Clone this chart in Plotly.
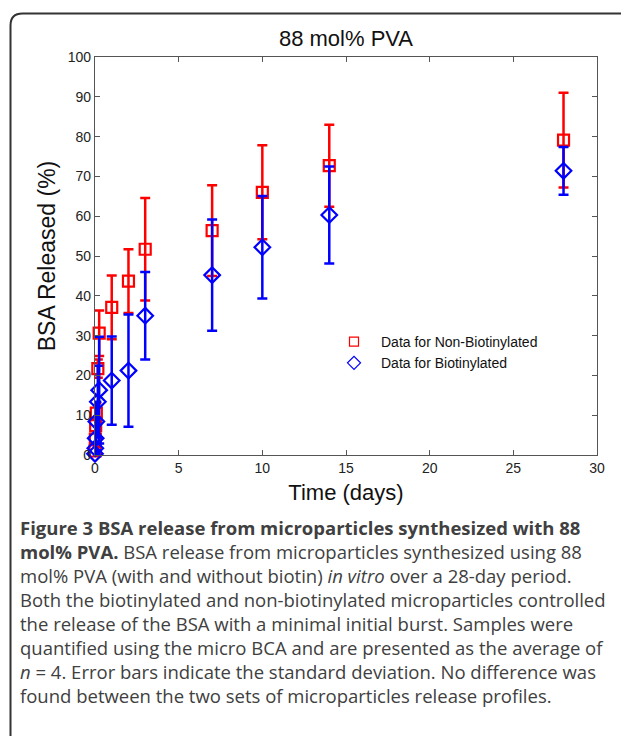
import plotly.graph_objects as go

# Data (time in days)
time = [0, 0.02, 0.04, 0.08, 0.17, 0.25, 1, 2, 3, 7, 10, 14, 28]
non_biot = [1.0, 4.0, 7.4, 10.5, 21.7, 30.6, 37.1, 43.7, 51.7, 56.4, 66.0, 72.7, 79.1]
non_biot_sd = [1.0, 2.0, 2.0, 2.5, 2.3, 5.7, 8.0, 8.0, 12.9, 11.4, 11.8, 10.3, 11.9]
biot = [0.3, 1.7, 4.2, 8.4, 13.4, 16.3, 18.7, 21.2, 35.0, 45.2, 52.2, 60.3, 71.4]
biot_sd = [0.5, 1.5, 3.0, 5.0, 9.0, 13.4, 11.1, 14.1, 11.0, 14.0, 12.9, 12.2, 6.0]

x_ticks = [0, 5, 10, 15, 20, 25, 30]
y_ticks = [0, 10, 20, 30, 40, 50, 60, 70, 80, 90, 100]

RED = "#ff0000"
BLUE = "#0000ff"

W, H = 621, 736
L, R, T, B = 95, 24, 57, 281
PW, PH = W - L - R, H - T - B
ARIAL = "Arial, Liberation Sans, sans-serif"


def px(x):
    return (x - L) / PW


def py(y):
    return (H - B - y) / PH


fig = go.Figure()
fig.add_trace(go.Scatter(
    x=time, y=non_biot, mode="markers", showlegend=False,
    marker=dict(symbol="square-open", size=11, color=RED, line=dict(width=2.2)),
    error_y=dict(type="data", array=non_biot_sd, color=RED, thickness=2.5, width=5),
    cliponaxis=False,
))
fig.add_trace(go.Scatter(
    x=time, y=biot, mode="markers", showlegend=False,
    marker=dict(symbol="diamond-open", size=12, color=BLUE, line=dict(width=2.2)),
    error_y=dict(type="data", array=biot_sd, color=BLUE, thickness=2.5, width=5),
    cliponaxis=False,
))
# legend entries
fig.add_trace(go.Scatter(
    x=[None], y=[None], mode="markers", name="Data for Non-Biotinylated",
    marker=dict(symbol="square-open", size=9, color=RED, line=dict(width=1.2)),
))
fig.add_trace(go.Scatter(
    x=[None], y=[None], mode="markers", name="Data for Biotinylated",
    marker=dict(symbol="diamond-open", size=10, color=BLUE, line=dict(width=1.2)),
))

axis_common = dict(
    showline=True, linecolor="#555555", linewidth=1.2, mirror="ticks",
    ticks="inside", ticklen=5, tickcolor="#555555", showgrid=False, zeroline=False,
    tickfont=dict(family=ARIAL, size=14, color="#222222"),
)

fig.update_layout(
    width=W, height=H,
    margin=dict(l=L, r=R, t=T, b=B),
    paper_bgcolor="white", plot_bgcolor="white",
    title=dict(text="88 mol% PVA", x=px(346), xref="paper", xanchor="center",
               y=1 - 38 / H, yanchor="middle",
               font=dict(family=ARIAL, size=22, color="#111111")),
    xaxis=dict(range=[0, 30], tickvals=x_ticks, ticktext=[str(v) for v in x_ticks],
               title=dict(text="Time (days)", standoff=9,
                          font=dict(family=ARIAL, size=22, color="#111111")),
               **axis_common),
    yaxis=dict(range=[0, 100], tickvals=y_ticks, ticktext=[str(v) for v in y_ticks],
               title=dict(text="BSA Released (%)", standoff=5,
                          font=dict(family=ARIAL, size=23, color="#111111")),
               **axis_common),
    legend=dict(x=px(327), y=py(326), xanchor="left", yanchor="top",
                bgcolor="rgba(0,0,0,0)", borderwidth=0, itemwidth=44,
                font=dict(family=ARIAL, size=14, color="#111111")),
)

# rounded frame
x0, y0, r = 10.5, 13.5, 12
path = (f"M {px(x0)} {py(H + 5)} L {px(x0)} {py(y0 + r)} "
        f"Q {px(x0)} {py(y0)} {px(x0 + r)} {py(y0)} L {px(W + 5)} {py(y0)}")
fig.add_shape(type="path", path=path, xref="paper", yref="paper",
              line=dict(color="#333333", width=2))

# caption
cap_font = "Open Sans, Noto Sans, sans-serif"
lines = [
    "<b>Figure 3 BSA release from microparticles synthesized with 88</b>",
    "<b>mol% PVA.</b> BSA release from microparticles synthesized using 88",
    "mol% PVA (with and without biotin) <i>in vitro</i> over a 28-day period.",
    "Both the biotinylated and non-biotinylated microparticles controlled",
    "the release of the BSA with a minimal initial burst. Samples were",
    "quantified using the micro BCA and are presented as the average of",
    "<i>n</i> = 4. Error bars indicate the standard deviation. No difference was",
    "found between the two sets of microparticles release profiles.",
]
for i, ln in enumerate(lines):
    yc = 527 + i * 24
    fig.add_annotation(text=ln, xref="paper", yref="paper", x=px(18), y=py(yc),
                       xanchor="left", yanchor="middle", showarrow=False,
                       font=dict(family=cap_font, size=18.5, color="#404040"))

fig.write_html("out.html", config={"displayModeBar": False},
               post_script="document.body.style.margin='0';")
